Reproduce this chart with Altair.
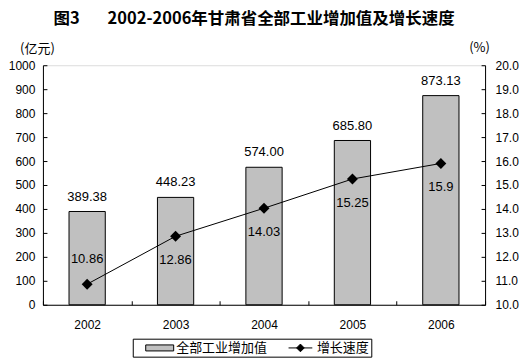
import altair as alt
import pandas as pd

# ---- data ----
years = ["2002", "2003", "2004", "2005", "2006"]
value_added = [389.38, 448.23, 574.00, 685.80, 873.13]
value_labels = ["389.38", "448.23", "574.00", "685.80", "873.13"]
growth = [10.86, 12.86, 14.03, 15.25, 15.9]
growth_labels = ["10.86", "12.86", "14.03", "15.25", "15.9"]
series_names = ["全部工业增加值", "增长速度"]
left_ticks = [0, 100, 200, 300, 400, 500, 600, 700, 800, 900, 1000]
right_ticks = [10, 11, 12, 13, 14, 15, 16, 17, 18, 19, 20]
title_text = "图3　\u2002\u20092002-2006年甘肃省全部工业增加值及增长速度"

df = pd.DataFrame({
    "year": years,
    "value": value_added,
    "vlabel": value_labels,
    "growth": growth,
    "glabel": growth_labels,
    "s_bar": series_names[0],
    "s_line": series_names[1],
})

LAT = "Liberation Sans"
CJK = "Noto Sans CJK SC"
inward = {"expr": "-4"}

x_enc = alt.X("year:N", sort=years,
              scale=alt.Scale(paddingInner=0, paddingOuter=0),
              axis=alt.Axis(title=None, labelAngle=0, tickBand="extent",
                            tickSize=inward, labelPadding=19,
                            labelFont=LAT, labelFontSize=12, labelColor="black",
                            domainColor="black", tickColor="black"))

left_axis = alt.Axis(values=left_ticks, format="d", title="(亿元)", titleAngle=0,
                     titleX=-6, titleY=-17, titleAlign="center",
                     titleBaseline="middle", titleFont=CJK, titleFontSize=13,
                     titleFontWeight="normal", titleColor="black",
                     tickSize=inward, labelPadding=12, grid=False,
                     labelFont=LAT, labelFontSize=12, labelColor="black",
                     domainColor="black", tickColor="black")
right_axis = alt.Axis(values=right_ticks, format=".1f", orient="right",
                      title="(%)", titleAngle=0, titleX=-6, titleY=-18,
                      titleAlign="center", titleBaseline="middle",
                      titleFont=CJK, titleFontSize=13, titleFontWeight="normal",
                      titleColor="black",
                      tickSize=inward, labelPadding=14, grid=False,
                      labelFont=LAT, labelFontSize=12, labelColor="black",
                      domainColor="black", tickColor="black")

y_left = alt.Y("value:Q", scale=alt.Scale(domain=[0, 1000]), axis=left_axis)
y_right = alt.Y("growth:Q", scale=alt.Scale(domain=[10, 20]), axis=right_axis)

rect_path = "M-2,-0.43H2V0.43H-2Z"
line_path = "M-1.7,0H1.7M0,-0.55L0.55,0L0,0.55L-0.55,0Z"

legend = alt.Legend(title=None, orient="none", legendX=90, legendY=274,
                    direction="horizontal", symbolSize=196, labelOffset=9,
                    symbolOffset=18, columnPadding=7, padding=1.5,
                    strokeColor="black", fillColor="white", labelFont=CJK,
                    labelFontSize=13, labelColor="black",
                    symbolStrokeColor="black", symbolStrokeWidth=1)

color_scale = alt.Scale(domain=series_names, range=["#c0c0c0", "black"])
shape_scale = alt.Scale(domain=series_names, range=[rect_path, line_path])
stroke_scale = alt.Scale(domain=series_names, range=["black", "black"])

base = alt.Chart(df)

bars = base.mark_bar(stroke="black", strokeWidth=1, width={"band": 0.41}).encode(
    x=x_enc, y=y_left,
    color=alt.Color("s_bar:N", scale=color_scale, legend=legend))
bar_text = base.mark_text(dy=-15, font=LAT, fontSize=13, color="black").encode(
    x=x_enc, y=y_left, text="vlabel:N")

line = base.mark_line(color="black", strokeWidth=1).encode(x=x_enc, y=y_right)
points = base.mark_point(shape="diamond", filled=True, size=120, color="black",
                         opacity=1).encode(x=x_enc, y=y_right)
text_up = base.transform_filter(alt.datum.year == years[0]).mark_text(
    dy=-25, font=LAT, fontSize=13, color="black").encode(
    x=x_enc, y=y_right, text="glabel:N")
text_down = base.transform_filter(alt.datum.year != years[0]).mark_text(
    dy=24, font=LAT, fontSize=13, color="black").encode(
    x=x_enc, y=y_right, text="glabel:N")
shape_layer = base.transform_filter("false").mark_point(
    filled=True, strokeWidth=1, opacity=1).encode(
    shape=alt.Shape("s_line:N", scale=shape_scale, legend=legend),
    stroke=alt.Stroke("s_line:N", scale=stroke_scale, legend=legend))

left = alt.layer(bars, bar_text)
right = alt.layer(line, points, text_down, text_up, shape_layer)

chart = alt.layer(left, right).resolve_scale(y="independent").properties(
    width=443, height=240,
    padding={"left": 0, "top": 2, "right": 5, "bottom": 0},
    title=alt.Title(text=title_text, font=CJK, fontSize=16.5, fontWeight="bold",
                    anchor="middle", offset=14, dx=-10, color="black"),
).configure_view(stroke=None).configure(background="white").configure_legend(
    strokeColor="black", strokeWidth=1, fillColor="white", padding=1.5,
    symbolStrokeColor="black", symbolStrokeWidth=1)

chart.save("out.html", embed_options={"renderer": "svg", "actions": False})
